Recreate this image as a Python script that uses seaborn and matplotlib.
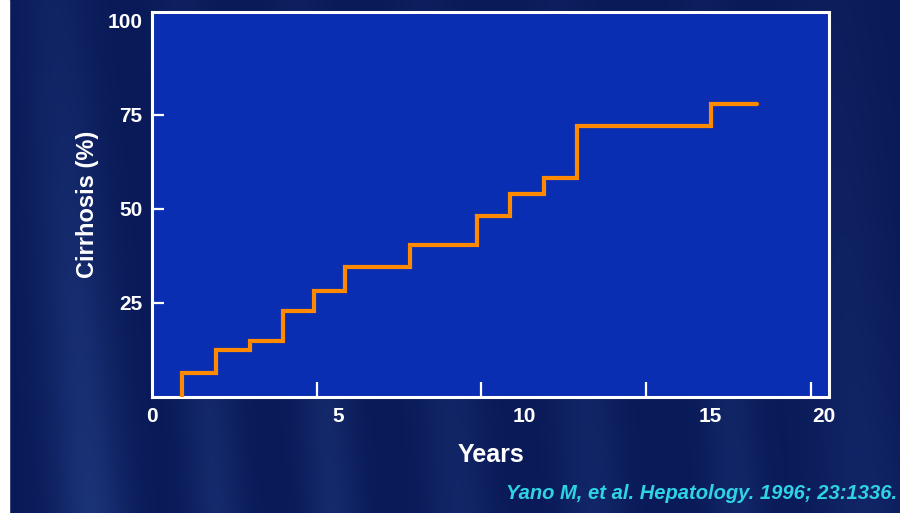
"""
Cumulative incidence of cirrhosis over follow-up (Yano M, et al. 1996),
redrawn as a slide-style step chart.
"""
import matplotlib
matplotlib.use('Agg')
import matplotlib.pyplot as plt
import numpy as np
import pandas as pd
import seaborn as sns

sns.set_theme(style='white')
plt.rcParams['font.family'] = ['Liberation Sans', 'DejaVu Sans']
plt.rcParams['font.weight'] = 'bold'

# Step data: year of each jump and the level after it.
event_years = [0.9, 1.95, 2.98, 3.96, 4.92, 5.87, 7.84, 9.85, 10.88, 11.9, 12.9, 16.96]
cirrhosis_pct = [6.4, 12.4, 15.0, 22.8, 28.1, 34.5, 40.4, 48.1, 54.0, 58.1, 71.9, 77.9]
follow_up_end = 18.38

y_ticks = [25, 50, 75, 100]
x_tick_marks = [5, 10, 15, 20]
x_tick_labels = ['0', '5', '10', '15', '20']
citation = 'Yano M, et al. Hepatology. 1996; 23:1336.'

SLIDE_BG = '#0b1d5e'
PLOT_BG = '#0a2eb2'
ORANGE = '#ff8a00'
CYAN = '#2fd3e6'

curve = pd.DataFrame({
    'Years': [event_years[0]] + event_years + [follow_up_end],
    'Cirrhosis': [0] + cirrhosis_pct + [cirrhosis_pct[-1]],
})

fig = plt.figure(figsize=(9, 5.13), dpi=100, facecolor=SLIDE_BG)

# slide backdrop: dark navy with a few soft lighter streaks, stronger low down
bg = fig.add_axes([0, 0, 1, 1], zorder=-5)
xx = np.linspace(0, 1, 450)
yy = np.linspace(0, 1, 260)
X, Y = np.meshgrid(xx, yy)
glow = np.zeros_like(X)
for c, w, a in [(0.06, 0.04, 0.7), (0.2, 0.03, 0.45), (0.33, 0.03, 0.45),
                (0.47, 0.035, 0.35), (0.62, 0.035, 0.35), (0.78, 0.03, 0.35),
                (0.92, 0.05, 0.3)]:
    glow += a * np.exp(-((X - c - 0.04 * Y) / w) ** 2)
glow = np.clip(glow * (0.35 + 0.65 * Y), 0, 1)[..., None]
dark = np.array([10, 26, 88]) / 255
light = np.array([34, 62, 132]) / 255
bg.imshow(dark + glow * (light - dark), aspect='auto', extent=[0, 1, 0, 1])
bg.set_xlim(0, 1)
bg.set_ylim(0, 1)
bg.axis('off')
bg.axvspan(0, 0.01, color='white')

ax = fig.add_axes([0.169, 0.226, 0.752, 0.750])
ax.set_facecolor(PLOT_BG)
sns.lineplot(data=curve, x='Years', y='Cirrhosis', estimator=None, sort=False,
             drawstyle='steps-post', color=ORANGE, lw=3, ax=ax,
             solid_joinstyle='miter', zorder=3)

ax.set_xlim(0, 20.55)
ax.set_ylim(0, 102.2)
for side in ax.spines.values():
    side.set_color('white')
    side.set_linewidth(2.2)

# tick marks sit at 5-year steps; the slide prints its numbers slightly off them
label_pos = [0, 5.65, 11.3, 16.96, 20.4]
ax.set_xticks(label_pos)
ax.set_xticklabels(x_tick_labels)
ax.set_xticks(x_tick_marks, minor=True)
ax.tick_params(axis='x', which='major', length=0, pad=7, labelsize=15,
               labelcolor='white')
ax.tick_params(axis='x', which='minor', direction='in', length=10.5, width=1.6,
               color='white', bottom=True)

ax.set_yticks(y_ticks)
ax.set_yticklabels([str(v) for v in y_ticks])
ax.tick_params(axis='y', which='major', direction='in', length=8.5, width=1.6,
               color='white', pad=7, labelsize=15, labelcolor='white', left=True)
ax.yaxis.get_major_ticks()[-1].tick1line.set_visible(False)

ax.set_xlabel('Years', fontsize=18, color='white', fontweight='bold')
ax.set_ylabel('Cirrhosis (%)', fontsize=17, color='white', fontweight='bold')
ax.xaxis.set_label_coords(0.5, -0.12)
ax.yaxis.set_label_coords(-0.078, 0.5)

fig.text(0.9967, 0.027, citation, ha='right', va='baseline', fontsize=14.5,
         style='italic', fontweight='bold', color=CYAN)

fig.savefig('out.png', dpi=100, facecolor=fig.get_facecolor())
